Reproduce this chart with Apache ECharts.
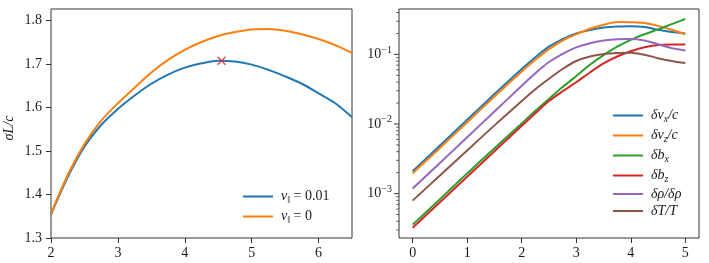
<!DOCTYPE html>
<html><head><meta charset="utf-8">
<script src="https://cdn.jsdelivr.net/npm/echarts@6/dist/echarts.min.js"></script>
<style>html,body{margin:0;padding:0;background:#fff}#c{width:709px;height:263px}</style>
</head><body><div id="c"></div>
<script>
// ---- left panel data ----
const kLeft = [2,2.25,2.5,2.75,3,3.25,3.5,3.75,4,4.25,4.5,4.75,5,5.25,5.5,5.75,6,6.25,6.5];
const sigmaNu001 = [1.354,1.440,1.510,1.560,1.597,1.628,1.655,1.676,1.692,1.702,1.708,1.706,1.699,1.687,1.672,1.655,1.633,1.610,1.578];
const sigmaNu0   = [1.356,1.445,1.516,1.570,1.610,1.646,1.681,1.710,1.733,1.751,1.765,1.774,1.780,1.781,1.777,1.769,1.758,1.744,1.726];
const maxMarkX = [4.55];
const maxMarkY = [1.708];
const leftXTicks = [2,3,4,5,6];
const leftYTicks = [1.3,1.4,1.5,1.6,1.7,1.8];

// ---- right panel data ----
const tRight = [0,0.5,1,1.5,2,2.25,2.5,2.75,3,3.25,3.5,3.75,4,4.25,4.5,4.75,5];
const dvx = [0.00209,0.00490,0.0115,0.0269,0.0617,0.0912,0.129,0.166,0.200,0.224,0.243,0.252,0.254,0.247,0.226,0.209,0.200];
const dvz = [0.00196,0.00452,0.0106,0.0248,0.0569,0.0836,0.119,0.158,0.195,0.234,0.266,0.292,0.290,0.282,0.257,0.226,0.194];
const dbx = [0.000358,0.000832,0.00195,0.00447,0.0102,0.0155,0.0229,0.0339,0.0490,0.0708,0.0977,0.129,0.162,0.195,0.229,0.272,0.322];
const dbz = [0.000322,0.000750,0.00175,0.00407,0.00940,0.0143,0.0214,0.0295,0.0398,0.0550,0.0741,0.0933,0.111,0.127,0.136,0.139,0.139];
const drho = [0.00118,0.00275,0.00646,0.0151,0.0355,0.0537,0.0776,0.102,0.126,0.145,0.158,0.165,0.166,0.158,0.140,0.123,0.114];
const dT = [0.000792,0.00182,0.00417,0.00955,0.0214,0.0316,0.0447,0.0617,0.0804,0.0933,0.101,0.105,0.106,0.0989,0.0881,0.0804,0.0750];
const rightXTicks = [0,1,2,3,4,5];
const rightYTicks = [0.001,0.01,0.1];
const rightMinorTicks = [0.0003,0.0004,0.0005,0.0006,0.0007,0.0008,0.0009,
  0.002,0.003,0.004,0.005,0.006,0.007,0.008,0.009,
  0.02,0.03,0.04,0.05,0.06,0.07,0.08,0.09,
  0.2,0.3,0.4];

const FONT = 'Liberation Serif';
const TXT = '#1a1a1a';
const SPINE = '#333';
const C = ['#1f77b4','#ff7f0e','#2ca02c','#d62728','#9467bd','#8c564b'];

const zip = (xs, ys) => xs.map((x, i) => [x, ys[i]]);

const legendLabels = {
  'ν‖ = 0.01': '{i|ν}{sub|‖}{r| = 0.01}',
  'ν‖ = 0': '{i|ν}{sub|‖}{r| = 0}',
  'δvx/c': '{i|δv}{sub|x}{i|/c}',
  'δvz/c': '{i|δv}{sub|z}{i|/c}',
  'δbx': '{i|δb}{sub|x}',
  'δbz': '{i|δb}{sub|z}',
  'δρ/δρ': '{i|δρ/δρ}',
  'δT/T': '{i|δT/T}'
};
const legendRich = {
  i: {fontFamily: FONT, fontStyle: 'italic', fontSize: 14, color: TXT, lineHeight: 16},
  r: {fontFamily: FONT, fontSize: 14, color: TXT, lineHeight: 16},
  sub: {fontFamily: FONT, fontStyle: 'italic', fontSize: 10, color: TXT, lineHeight: 10, padding: [7,0,0,0]}
};
const LINE_ICON = 'path://M0,0H30V2H0Z';

const labelBase = {fontFamily: FONT, fontSize: 14, color: TXT};
const tickStyle = {show: true, inside: false, length: 5, lineStyle: {color: SPINE, width: 1}};

// right-panel y ticks: [x-anchor, value, isMajor]
const rightYTickData = rightYTicks.map(v => [-0.25, v, 1]).concat(rightMinorTicks.map(v => [-0.25, v, 0]));

const chart = echarts.init(document.getElementById('c'), null, {renderer: 'canvas'});
chart.setOption({
  animation: false,
  backgroundColor: '#fff',
  grid: [
    {left: 51, top: 9, width: 301, height: 229, show: true, borderColor: SPINE, borderWidth: 1, outerBoundsMode: 'none'},
    {left: 399, top: 9, width: 300, height: 229, show: true, borderColor: SPINE, borderWidth: 1, outerBoundsMode: 'none'}
  ],
  xAxis: [
    {type: 'value', gridIndex: 0, min: 2, max: 6.5,
     axisLine: {show: false}, splitLine: {show: false},
     axisTick: Object.assign({customValues: leftXTicks}, tickStyle),
     axisLabel: Object.assign({customValues: leftXTicks, margin: 8}, labelBase)},
    {type: 'value', gridIndex: 1, min: -0.25, max: 5.25,
     axisLine: {show: false}, splitLine: {show: false},
     axisTick: Object.assign({customValues: rightXTicks}, tickStyle),
     axisLabel: Object.assign({customValues: rightXTicks, margin: 8}, labelBase)}
  ],
  yAxis: [
    {type: 'value', gridIndex: 0, min: 1.3, max: 1.827,
     axisLine: {show: false}, splitLine: {show: false},
     axisTick: Object.assign({customValues: leftYTicks}, tickStyle),
     axisLabel: Object.assign({customValues: leftYTicks, margin: 9, formatter: v => v.toFixed(1)}, labelBase)},
    {type: 'log', gridIndex: 1, position: 'left', min: 0.00023, max: 0.449,
     axisLine: {show: false}, splitLine: {show: false},
     axisTick: {show: false},
     axisLabel: {customValues: rightYTicks, margin: 7,
       formatter: v => '{b|10}{s|−' + Math.round(-Math.log10(v)) + '}',
       rich: {
         b: {fontFamily: FONT, fontSize: 14, color: TXT, lineHeight: 16},
         s: {fontFamily: FONT, fontSize: 10, color: TXT, lineHeight: 10, padding: [0,0,9,0]}
       }}}
  ],
  legend: [
    {data: ['ν‖ = 0.01', 'ν‖ = 0'], orient: 'vertical', left: 243, top: 188, padding: 0,
     itemWidth: 30, itemHeight: 14, itemGap: 3, icon: LINE_ICON,
     formatter: n => legendLabels[n],
     textStyle: {fontFamily: FONT, fontSize: 14, color: TXT, rich: legendRich, padding: [0,0,0,3]}},
    {data: ['δvx/c','δvz/c','δbx','δbz','δρ/δρ','δT/T'], orient: 'vertical', left: 613, top: 107, padding: 0,
     itemWidth: 30, itemHeight: 14, itemGap: 3, icon: LINE_ICON,
     formatter: n => legendLabels[n],
     textStyle: {fontFamily: FONT, fontSize: 14, color: TXT, rich: legendRich, padding: [0,0,0,3]}}
  ],
  graphic: [
    {type: 'text', x: 9, y: 128, rotation: Math.PI / 2,
     style: {text: 'σL/c', fontFamily: FONT, fontStyle: 'italic', fontSize: 14, fill: TXT, align: 'center', verticalAlign: 'middle'}}
  ],
  series: [
    {name: 'ν‖ = 0.01', type: 'line', xAxisIndex: 0, yAxisIndex: 0, data: zip(kLeft, sigmaNu001),
     smooth: 0.3, symbol: 'none', color: C[0], lineStyle: {width: 2, color: C[0]}},
    {name: 'ν‖ = 0', type: 'line', xAxisIndex: 0, yAxisIndex: 0, data: zip(kLeft, sigmaNu0),
     smooth: 0.3, symbol: 'none', color: C[1], lineStyle: {width: 2, color: C[1]}},
    {name: 'max', type: 'scatter', xAxisIndex: 0, yAxisIndex: 0, data: zip(maxMarkX, maxMarkY),
     symbol: 'path://M0,0L10,10M0,10L10,0', symbolSize: 8, z: 10,
     itemStyle: {color: 'rgba(0,0,0,0)', borderColor: C[3], borderWidth: 1.5}},
    {name: 'δvx/c', type: 'line', xAxisIndex: 1, yAxisIndex: 1, data: zip(tRight, dvx),
     smooth: 0.3, symbol: 'none', color: C[0], lineStyle: {width: 2, color: C[0]}},
    {name: 'δvz/c', type: 'line', xAxisIndex: 1, yAxisIndex: 1, data: zip(tRight, dvz),
     smooth: 0.3, symbol: 'none', color: C[1], lineStyle: {width: 2, color: C[1]}},
    {name: 'δbx', type: 'line', xAxisIndex: 1, yAxisIndex: 1, data: zip(tRight, dbx),
     smooth: 0.3, symbol: 'none', color: C[2], lineStyle: {width: 2, color: C[2]}},
    {name: 'δbz', type: 'line', xAxisIndex: 1, yAxisIndex: 1, data: zip(tRight, dbz),
     smooth: 0.3, symbol: 'none', color: C[3], lineStyle: {width: 2, color: C[3]}},
    {name: 'δρ/δρ', type: 'line', xAxisIndex: 1, yAxisIndex: 1, data: zip(tRight, drho),
     smooth: 0.3, symbol: 'none', color: C[4], lineStyle: {width: 2, color: C[4]}},
    {name: 'δT/T', type: 'line', xAxisIndex: 1, yAxisIndex: 1, data: zip(tRight, dT),
     smooth: 0.3, symbol: 'none', color: C[5], lineStyle: {width: 2, color: C[5]}},
    {name: 'y ticks', type: 'custom', xAxisIndex: 1, yAxisIndex: 1, clip: false, silent: true, z: 5,
     encode: {x: 0, y: 1},
     data: rightYTickData,
     renderItem: (params, api) => {
       const p = api.coord([api.value(0), api.value(1)]);
       const major = api.value(2) === 1;
       const len = major ? 5 : 2.8;
       return {type: 'line', shape: {x1: p[0] - len, y1: p[1], x2: p[0], y2: p[1]},
               style: {stroke: SPINE, lineWidth: major ? 1 : 0.8}};
     }}
  ]
});
</script></body></html>
